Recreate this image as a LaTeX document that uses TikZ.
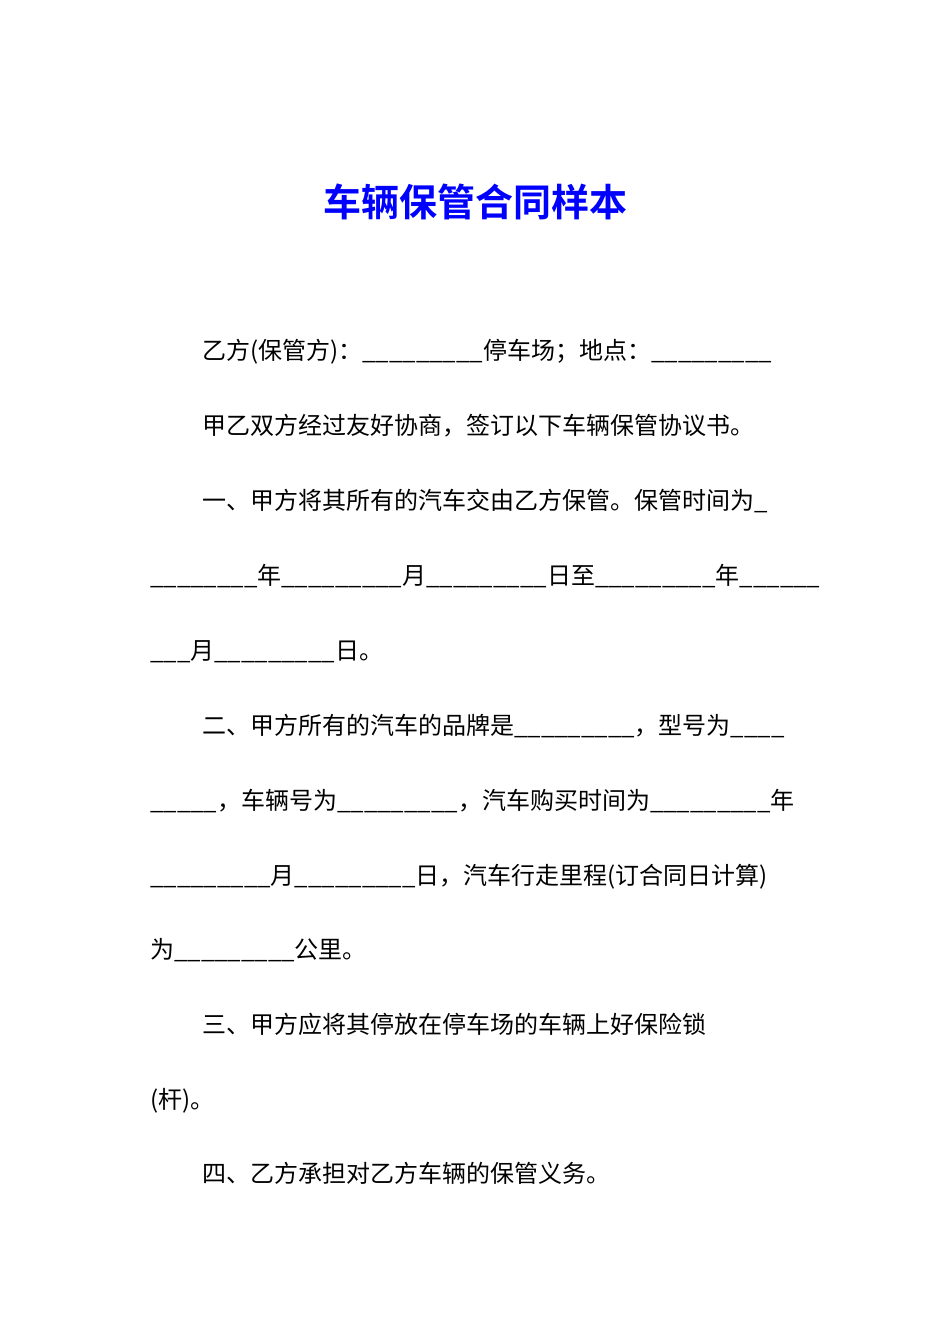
\documentclass[tikz,border=0pt]{standalone}
\usepackage{fontspec}
\setmainfont{Noto Sans CJK SC}[BoldFont={Noto Sans CJK SC Bold}]
\begin{document}
\begin{tikzpicture}[x=1pt,y=-1pt,
  body/.style={anchor=base west,inner sep=0pt,font=\fontsize{24}{24}\selectfont},
  ttl/.style={anchor=base,inner sep=0pt,text=blue,font=\fontsize{38}{38}\selectfont\bfseries}]
\useasboundingbox[fill=white] (0,0) rectangle (950,1344);
\node[ttl] (t) at (475,216) {车辆保管合同样本};
\node[body] (l1) at (202,359) {乙方(保管方)：\_\_\_\_\_\_\_\_\_停车场；地点：\_\_\_\_\_\_\_\_\_};
\node[body] (l2) at (202,434) {甲乙双方经过友好协商，签订以下车辆保管协议书。};
\node[body] (l3) at (202,509) {一、甲方将其所有的汽车交由乙方保管。保管时间为\_};
\node[body] (l4) at (150,584) {\_\_\_\_\_\_\_\_年\_\_\_\_\_\_\_\_\_月\_\_\_\_\_\_\_\_\_日至\_\_\_\_\_\_\_\_\_年\_\_\_\_\_\_};
\node[body] (l5) at (150,659) {\_\_\_月\_\_\_\_\_\_\_\_\_日。};
\node[body] (l6) at (202,734) {二、甲方所有的汽车的品牌是\_\_\_\_\_\_\_\_\_，型号为\_\_\_\_};
\node[body] (l7) at (150,809) {\_\_\_\_\_，车辆号为\_\_\_\_\_\_\_\_\_，汽车购买时间为\_\_\_\_\_\_\_\_\_年};
\node[body] (l8) at (150,884) {\_\_\_\_\_\_\_\_\_月\_\_\_\_\_\_\_\_\_日，汽车行走里程(订合同日计算)};
\node[body] (l9) at (150,958) {为\_\_\_\_\_\_\_\_\_公里。};
\node[body] (l10) at (202,1033) {三、甲方应将其停放在停车场的车辆上好保险锁};
\node[body] (l11) at (150,1108) {(杆)。};
\node[body] (l12) at (202,1182) {四、乙方承担对乙方车辆的保管义务。};
\end{tikzpicture}
\end{document}
